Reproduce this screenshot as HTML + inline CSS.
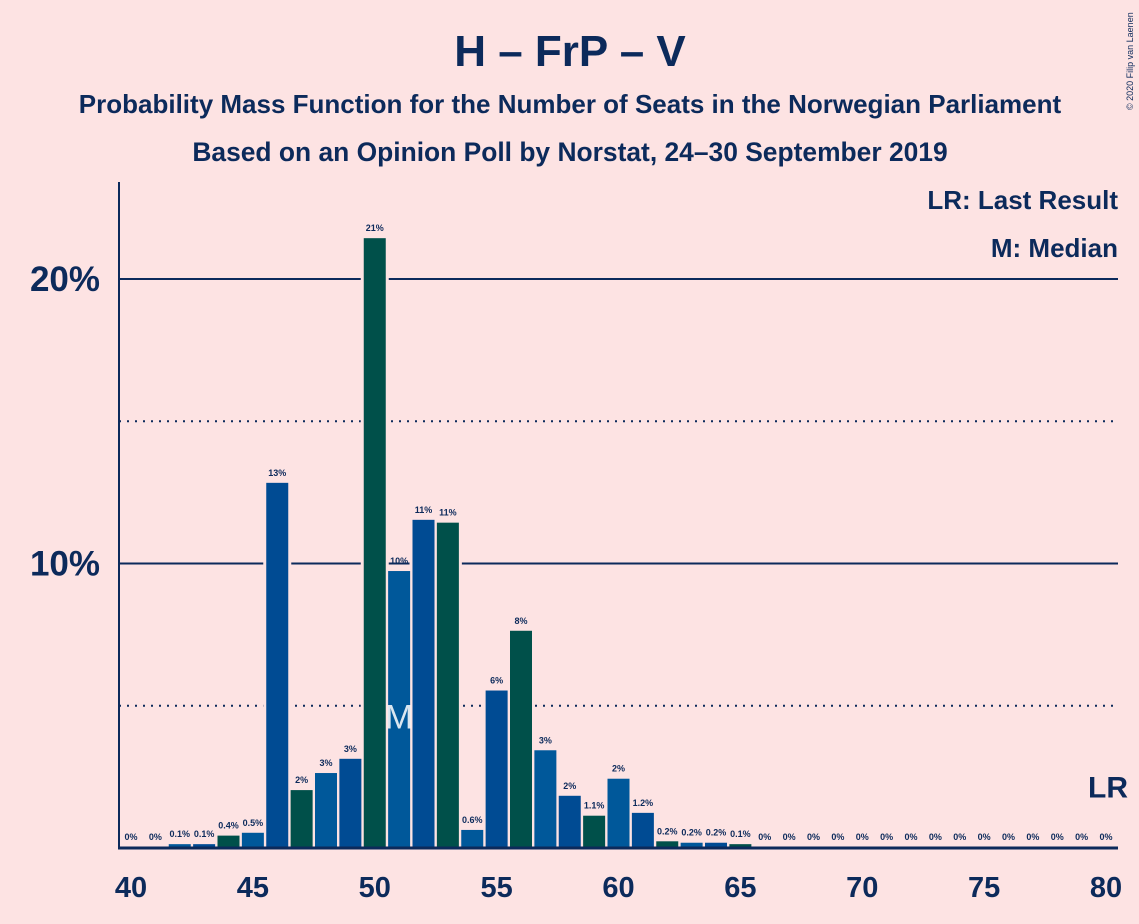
<!DOCTYPE html>
<html><head><meta charset="utf-8"><style>
body{margin:0;background:#fde3e3;}
svg{display:block;font-family:"Liberation Sans",sans-serif;}
</style></head><body>
<svg width="1139" height="924" xmlns="http://www.w3.org/2000/svg">
<rect width="1139" height="924" fill="#fde3e3"/>
<text x="570" y="66" text-anchor="middle" font-size="44" font-weight="bold" fill="#0c2a5b">H – FrP – V</text>
<text x="570" y="113" text-anchor="middle" font-size="26" font-weight="bold" fill="#0c2a5b">Probability Mass Function for the Number of Seats in the Norwegian Parliament</text>
<text x="570" y="161" text-anchor="middle" font-size="26.4" font-weight="bold" fill="#0c2a5b">Based on an Opinion Poll by Norstat, 24–30 September 2019</text>
<text x="1133" y="110" font-size="9" fill="#0c2a5b" transform="rotate(-90 1133 110)">© 2020 Filip van Laenen</text>
<g id="grid"></g>
<g id="bars"></g>
<g id="axes"></g>
<text x="1118" y="209" text-anchor="end" font-size="26" font-weight="bold" fill="#0c2a5b">LR: Last Result</text>
<text x="1118" y="257" text-anchor="end" font-size="26" font-weight="bold" fill="#0c2a5b">M: Median</text>
</svg>
<script>
const seats=[40,41,42,43,44,45,46,47,48,49,50,51,52,53,54,55,56,57,58,59,60,61,62,63,64,65,66,67,68,69,70,71,72,73,74,75,76,77,78,79,80];
const probs=[0,0,0.1,0.1,0.4,0.5,12.8,2.0,2.6,3.1,21.4,9.7,11.5,11.4,0.6,5.5,7.6,3.4,1.8,1.1,2.4,1.2,0.2,0.15,0.15,0.1,0,0,0,0,0,0,0,0,0,0,0,0,0,0,0];
const labels=["0%","0%","0.1%","0.1%","0.4%","0.5%","13%","2%","3%","3%","21%","10%","11%","11%","0.6%","6%","8%","3%","2%","1.1%","2%","1.2%","0.2%","0.2%","0.2%","0.1%","0%","0%","0%","0%","0%","0%","0%","0%","0%","0%","0%","0%","0%","0%","0%"];
const xTicks=[40,45,50,55,60,65,70,75,80];
const yTicks=[20,10];
const gridLevels=[5,10,15,20];
const medianSeat=51, lastResultSeat=80;
const NS="http://www.w3.org/2000/svg";
const x=s=>131+(s-40)*24.375;
const y=p=>848-p*28.45;
const colors=["#00504a","#00589a","#004b93"];
function mk(t,a,p){const e=document.createElementNS(NS,t);for(const k in a)e.setAttribute(k,a[k]);p.appendChild(e);return e;}
const grid=document.getElementById('grid'),bars=document.getElementById('bars'),axes=document.getElementById('axes');
gridLevels.forEach(g=>{const l=mk('line',{x1:119,x2:1118,y1:y(g),y2:y(g),stroke:'#0c2a5b','stroke-width':2,'stroke-dasharray':g%10==0?'none':'2 6'},grid);

});
seats.forEach((s,i)=>{const p=probs[i];if(p>0){const h=mk('rect',{x:x(s)-14,y:y(p)-3,width:28,height:p*28.45+3,fill:'#fde3e3'},bars);

}});
seats.forEach((s,i)=>{const p=probs[i];const c=colors[(s-41+300)%3];
const r=mk('rect',{x:x(s)-11,y:y(p)-1,width:22,height:Math.max(p*28.45+1,0),fill:c},bars);


const t=mk('text',{x:x(s),y:y(p)-8,'text-anchor':'middle','font-size':9,'font-weight':'bold',fill:'#0c2a5b'},bars);
t.textContent=labels[i];

});
const m=mk('text',{x:x(medianSeat),y:y(4.7)+14,'text-anchor':'middle','font-size':34,fill:'#ffffff','fill-opacity':0.85},bars);
m.textContent='M';


const lr=mk('text',{x:x(lastResultSeat)+22,y:y(2.2)+12,'text-anchor':'end','font-size':30,'font-weight':'bold',fill:'#0c2a5b'},bars);
lr.textContent='LR';


const ya=mk('line',{x1:119,x2:119,y1:182,y2:849,stroke:'#0c2a5b','stroke-width':2},axes);


const xa=mk('line',{x1:118,x2:1118,y1:848,y2:848,stroke:'#0c2a5b','stroke-width':3},axes);


xTicks.forEach(s=>{const t=mk('text',{x:x(s),y:897,'text-anchor':'middle','font-size':29,'font-weight':'bold',fill:'#0c2a5b'},axes);
t.textContent=s;

});
yTicks.forEach(v=>{const t=mk('text',{x:100,y:y(v)+12,'text-anchor':'end','font-size':35,'font-weight':'bold',fill:'#0c2a5b'},axes);
t.textContent=v+'%';

});
</script>
</body></html>
